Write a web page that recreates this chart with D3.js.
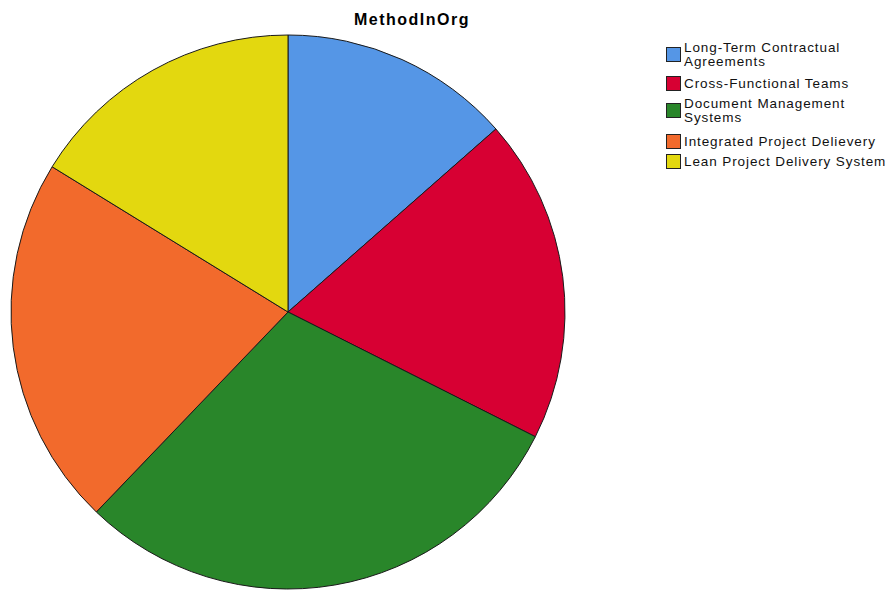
<!DOCTYPE html>
<html>
<head>
<meta charset="utf-8">
<script src="https://cdn.jsdelivr.net/npm/d3@7"></script>
<style>
  html, body { margin: 0; padding: 0; background: #fff; }
  svg { display: block; }
  text { font-family: "Liberation Sans", Arial, sans-serif; }
</style>
</head>
<body>
<svg id="chart" width="895" height="590"></svg>
<script>
const title = "MethodInOrg";
const categories = [
  "Long-Term Contractual Agreements",
  "Cross-Functional Teams",
  "Document Management Systems",
  "Integrated Project Delievery",
  "Lean Project Delivery System"
];
const legendLines = [
  ["Long-Term Contractual", "Agreements"],
  ["Cross-Functional Teams"],
  ["Document Management", "Systems"],
  ["Integrated Project Delievery"],
  ["Lean Project Delivery System"]
];
const values = [5, 7, 11, 8, 6];
const colors = ["#5596E6", "#D70033", "#29862A", "#F26A2C", "#E3D80F"];

const svg = d3.select("#chart");
const cx = 288, cy = 312, r = 277;

const color = d3.scaleOrdinal().domain(categories).range(colors);
const pie = d3.pie().sort(null).value(d => d.value);
const arc = d3.arc().innerRadius(0).outerRadius(r);
const data = categories.map((c, i) => ({ cat: c, value: values[i] }));

const g = svg.append("g").attr("transform", `translate(${cx},${cy})`);
g.selectAll("path")
  .data(pie(data))
  .join("path")
  .attr("d", arc)
  .attr("fill", d => color(d.data.cat))
  .attr("stroke", "#1a1a1a")
  .attr("stroke-width", 1)
  .attr("stroke-linejoin", "round");

svg.append("text")
  .attr("x", 412).attr("y", 25)
  .attr("text-anchor", "middle")
  .attr("font-size", 16).attr("font-weight", "bold")
  .attr("letter-spacing", 1.5)
  .attr("fill", "#000")
  .text(title);

// Legend
const baselines = [52, 88, 108, 146, 166];
const lineGap = 14;
const lg = svg.append("g");
categories.forEach((c, i) => {
  const lines = legendLines[i];
  const b = baselines[i];
  const sw = 14;
  const midY = b - 5 + (lines.length - 1) * lineGap / 2;
  lg.append("rect")
    .attr("x", 666.5).attr("y", Math.round(midY - sw / 2) + 0.5)
    .attr("width", sw).attr("height", sw)
    .attr("fill", color(c))
    .attr("stroke", "#222").attr("stroke-width", 1);
  lines.forEach((ln, j) => {
    lg.append("text")
      .attr("x", 684).attr("y", b + j * lineGap)
      .attr("font-size", 13.5)
      .attr("letter-spacing", 0.9)
      .attr("fill", "#111")
      .text(ln);
  });
});
</script>
</body>
</html>
